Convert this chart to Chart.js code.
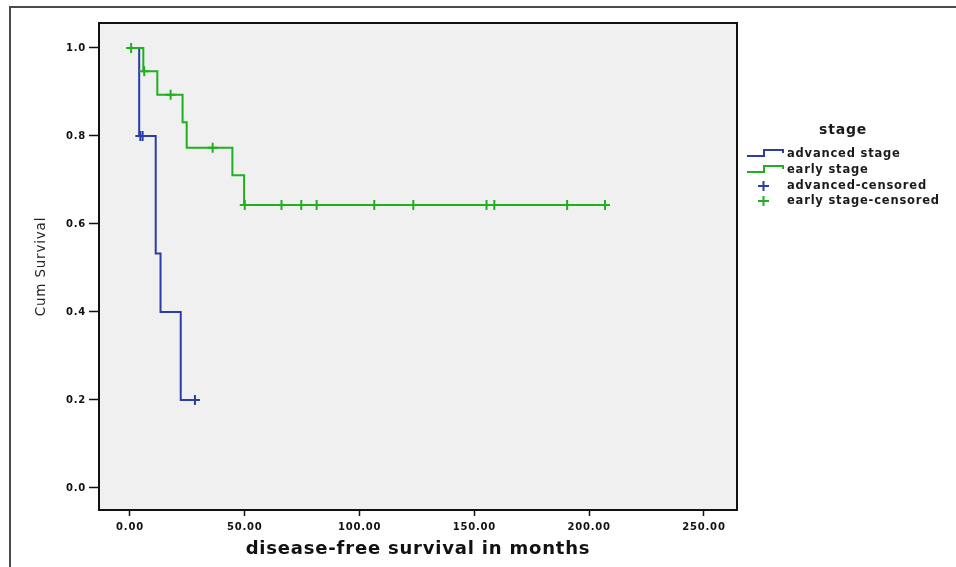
<!DOCTYPE html>
<html>
<head>
<meta charset="utf-8">
<title>Cum Survival by stage</title>
<script src="https://cdn.jsdelivr.net/npm/chart.js@4"></script>
<style>
  html, body { margin: 0; background: #fff; }
  #wrap { position: relative; width: 956px; height: 567px; overflow: hidden; }
  #frame { position: absolute; left: 9px; top: 6px; right: -5px; bottom: -5px;
           border-top: 2px solid #4a4a4a; border-left: 2px solid #4a4a4a; }
  #km { position: absolute; left: 0; top: 0; }
</style>
</head>
<body>
<div id="wrap">
  <div id="frame"></div>
  <canvas id="km" width="956" height="567"></canvas>
</div>
<script>
// Kaplan-Meier steps (months, cumulative survival)
const advancedTimes = [0, 4, 11.2, 13.3, 22.1, 28.3];
const advancedSurv  = [1.0, 0.8, 0.533, 0.4, 0.2, 0.2];
const advancedCensTimes = [4.5, 5.5, 28.3];
const advancedCensSurv  = [0.8, 0.8, 0.2];

const earlyTimes = [0, 5.8, 11.9, 22.9, 24.7, 44.6, 49.7, 207];
const earlySurv  = [1.0, 0.947, 0.894, 0.831, 0.773, 0.711, 0.643, 0.643];
const earlyCensTimes = [0.5, 6.2, 17.7, 36, 50, 66, 74.6, 81.3, 106.4, 123.4, 155.3, 158.7, 190.4, 206.9];
const earlyCensSurv  = [1.0, 0.947, 0.894, 0.773, 0.643, 0.643, 0.643, 0.643, 0.643, 0.643, 0.643, 0.643, 0.643, 0.643];

const xTicks = [0, 50, 100, 150, 200, 250];
const yTicks = [0, 0.2, 0.4, 0.6, 0.8, 1.0];

const legendTitle = 'stage';
const legendLabels = ['advanced stage', 'early stage', 'advanced-censored', 'early stage-censored'];

const BLUE = '#2a3da6';
const GREEN = '#1fb01f';

const toPoints = (xs, ys) => xs.map((x, i) => ({ x: x, y: ys[i] }));

// the SPSS export has widely spaced lettering everywhere
const spacing = {
  id: 'spacing',
  beforeDraw(chart) { chart.ctx.letterSpacing = '0.8px'; }
};

// grey plot background plus the top/right frame of the plot box
const plotBox = {
  id: 'plotBox',
  beforeDraw(chart) {
    const a = chart.chartArea, ctx = chart.ctx;
    ctx.save();
    ctx.fillStyle = '#f0f0f0';
    ctx.fillRect(a.left, a.top, a.right - a.left, a.bottom - a.top);
    ctx.restore();
  },
  afterDraw(chart) {
    const a = chart.chartArea, ctx = chart.ctx;
    ctx.save();
    ctx.strokeStyle = '#111';
    ctx.lineWidth = 2;
    ctx.beginPath();
    ctx.moveTo(a.left, a.top);
    ctx.lineTo(a.right, a.top);
    ctx.lineTo(a.right, a.bottom);
    ctx.stroke();
    ctx.restore();
  }
};

// SPSS style legend: step glyphs for the curves, crosses for censored cases
const spssLegend = {
  id: 'spssLegend',
  afterDraw(chart) {
    const ctx = chart.ctx;
    const colors = [BLUE, GREEN, BLUE, GREEN];
    const rowY = [154, 170, 186, 201];
    ctx.save();
    ctx.fillStyle = '#1a1a1a';
    ctx.textBaseline = 'middle';
    ctx.textAlign = 'center';
    ctx.font = 'bold 14px "DejaVu Sans"';
    ctx.fillText(legendTitle, 843, 130);
    ctx.textAlign = 'left';
    ctx.font = 'bold 11.5px "DejaVu Sans"';
    legendLabels.forEach((label, i) => {
      const y = rowY[i];
      ctx.strokeStyle = colors[i];
      ctx.lineWidth = 2;
      ctx.beginPath();
      if (i < 2) {
        ctx.moveTo(747, y + 2);
        ctx.lineTo(764, y + 2);
        ctx.lineTo(764, y - 4);
        ctx.lineTo(783, y - 4);
        ctx.lineTo(783, y - 1);
      } else {
        ctx.moveTo(758, y);
        ctx.lineTo(769, y);
        ctx.moveTo(763.5, y - 5);
        ctx.lineTo(763.5, y + 5);
      }
      ctx.stroke();
      ctx.fillText(label, 787, y);
    });
    ctx.restore();
  }
};

const tickFont = { family: '"DejaVu Sans"', weight: 'bold', size: 10 };

new Chart(document.getElementById('km'), {
  type: 'scatter',
  data: {
    datasets: [
      {
        label: legendLabels[1],
        data: toPoints(earlyTimes, earlySurv),
        showLine: true, stepped: true,
        borderColor: GREEN, borderWidth: 2, pointRadius: 0, order: 1
      },
      {
        label: legendLabels[0],
        data: toPoints(advancedTimes, advancedSurv),
        showLine: true, stepped: true,
        borderColor: BLUE, borderWidth: 2, pointRadius: 0, order: 2
      },
      {
        label: legendLabels[3],
        data: toPoints(earlyCensTimes, earlyCensSurv),
        pointStyle: 'cross', pointRadius: 5, borderColor: GREEN, borderWidth: 2, order: 0
      },
      {
        label: legendLabels[2],
        data: toPoints(advancedCensTimes, advancedCensSurv),
        pointStyle: 'cross', pointRadius: 5, borderColor: BLUE, borderWidth: 2, order: 0
      }
    ]
  },
  options: {
    responsive: false,
    animation: false,
    events: [],
    layout: { padding: { left: 20, top: 23, right: 219, bottom: 0 } },
    plugins: {
      legend: { display: false },
      tooltip: { enabled: false }
    },
    scales: {
      x: {
        type: 'linear',
        min: -13.5,
        max: 264.4,
        afterBuildTicks: s => { s.ticks = xTicks.map(v => ({ value: v })); },
        afterFit: s => { s.height = 57; },
        ticks: { callback: v => v.toFixed(2), font: tickFont, color: '#111', padding: 5, maxRotation: 0 },
        grid: { drawOnChartArea: false, tickLength: 6, tickWidth: 1.5, color: '#111' },
        border: { color: '#111', width: 2 },
        title: {
          display: true,
          text: 'disease-free survival in months',
          font: { family: '"DejaVu Sans"', weight: 'bold', size: 18 },
          color: '#111',
          padding: { top: 0, bottom: 7 }
        }
      },
      y: {
        type: 'linear',
        min: -0.05,
        max: 1.0568,
        afterBuildTicks: s => { s.ticks = yTicks.map(v => ({ value: v })); },
        afterFit: s => { s.width = 79; },
        ticks: { callback: v => v.toFixed(1), font: tickFont, color: '#111', padding: 3 },
        grid: { drawOnChartArea: false, tickLength: 10, tickWidth: 1.5, color: '#111' },
        border: { color: '#111', width: 2 },
        title: {
          display: true,
          text: 'Cum Survival',
          font: { family: '"DejaVu Sans", sans-serif', size: 13.5 },
          color: '#222',
          padding: { top: 13, bottom: 0 }
        }
      }
    }
  },
  plugins: [spacing, plotBox, spssLegend]
});
</script>
</body>
</html>
